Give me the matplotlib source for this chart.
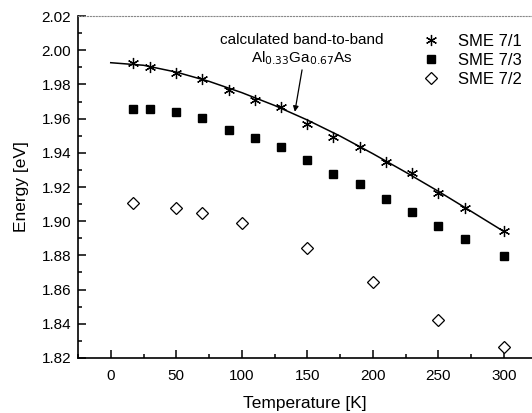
import numpy as np
import matplotlib.pyplot as plt
from matplotlib.ticker import MultipleLocator

plt.rcParams['font.family'] = ['Liberation Sans', 'DejaVu Sans']

# SME 7/1 and SME 7/3 temperatures (K)
temp_a = [17, 30, 50, 70, 90, 110, 130, 150, 170, 190, 210, 230, 250, 270, 300]
sme71 = [1.9925, 1.9900, 1.9865, 1.9830, 1.9770, 1.9707, 1.9666, 1.9568, 1.9494,
         1.9436, 1.9344, 1.9280, 1.9167, 1.9080, 1.8944]
sme73 = [1.9656, 1.9656, 1.9639, 1.9602, 1.9533, 1.9488, 1.9434, 1.9358, 1.9278,
         1.9219, 1.9132, 1.9056, 1.8974, 1.8896, 1.8798]

# SME 7/2
temp_b = [17, 50, 70, 100, 150, 200, 250, 300]
sme72 = [1.9105, 1.9077, 1.9046, 1.8988, 1.8845, 1.8646, 1.8422, 1.8266]

# calculated band-to-band curve
temp_calc = [0, 25, 50, 75, 100, 125, 150, 175, 200, 225, 250, 275, 300]
e_calc = [1.9927, 1.9912, 1.9872, 1.9818, 1.9752, 1.9677, 1.9592, 1.9498,
          1.9395, 1.9287, 1.9175, 1.9058, 1.8940]

fig = plt.figure(figsize=(5.32, 4.13), dpi=100)
ax = fig.add_axes([0.1466, 0.1332, 0.8534, 0.828])

ax.plot(temp_calc, e_calc, color='black', lw=1.1, zorder=2)
ax.plot(temp_a, sme71, ls='none', marker=(6, 2, 0), ms=8, mec='black', mew=0.9,
        label='SME 7/1', zorder=3)
ax.plot(temp_a, sme73, ls='none', marker='s', ms=6, color='black',
        label='SME 7/3', zorder=3)
ax.plot(temp_b, sme72, ls='none', marker='D', ms=6, mfc='white', mec='black',
        mew=0.9, label='SME 7/2', zorder=3)

ax.set_xlim(-25, 321.5)
ax.set_ylim(1.82, 2.02)
ax.xaxis.set_major_locator(MultipleLocator(50))
ax.xaxis.set_minor_locator(MultipleLocator(25))
ax.yaxis.set_major_locator(MultipleLocator(0.02))
ax.yaxis.set_minor_locator(MultipleLocator(0.01))
ax.yaxis.set_major_formatter(plt.FormatStrFormatter('%.2f'))
ax.tick_params(which='both', direction='in', labelsize=11, width=1.1, color='black')
ax.tick_params(which='major', length=6)
ax.tick_params(which='minor', length=3)
ax.tick_params(axis='x', pad=8)
ax.tick_params(axis='y', pad=5)
ax.tick_params(top=False, right=False, which='both')

ax.spines['right'].set_visible(False)
ax.spines['top'].set_linestyle(':')
ax.spines['top'].set_color('#888888')
ax.spines['top'].set_linewidth(0.8)
ax.spines['left'].set_linewidth(1.2)
ax.spines['bottom'].set_linewidth(1.2)

ax.set_xlabel('Temperature [K]', fontsize=12.5, labelpad=9)
ax.set_ylabel('Energy [eV]', fontsize=12.5, labelpad=9)

ax.text(146, 2.0057, 'calculated band-to-band', ha='center', va='center', fontsize=11)
ax.text(146, 1.9955, r'Al$_{0.33}$Ga$_{0.67}$As', ha='center', va='center', fontsize=11)
ax.annotate('', xy=(140.5, 1.9640), xytext=(146, 1.9885),
            arrowprops=dict(arrowstyle='-|>', color='black', lw=0.9,
                            mutation_scale=8, shrinkA=0, shrinkB=0))

ax.legend(loc='upper right', bbox_to_anchor=(1.0, 0.978), frameon=False,
          fontsize=12, handlelength=1.3, handletextpad=1.0, labelspacing=0.25,
          borderaxespad=0.2)

fig.savefig('out.png', dpi=100)
